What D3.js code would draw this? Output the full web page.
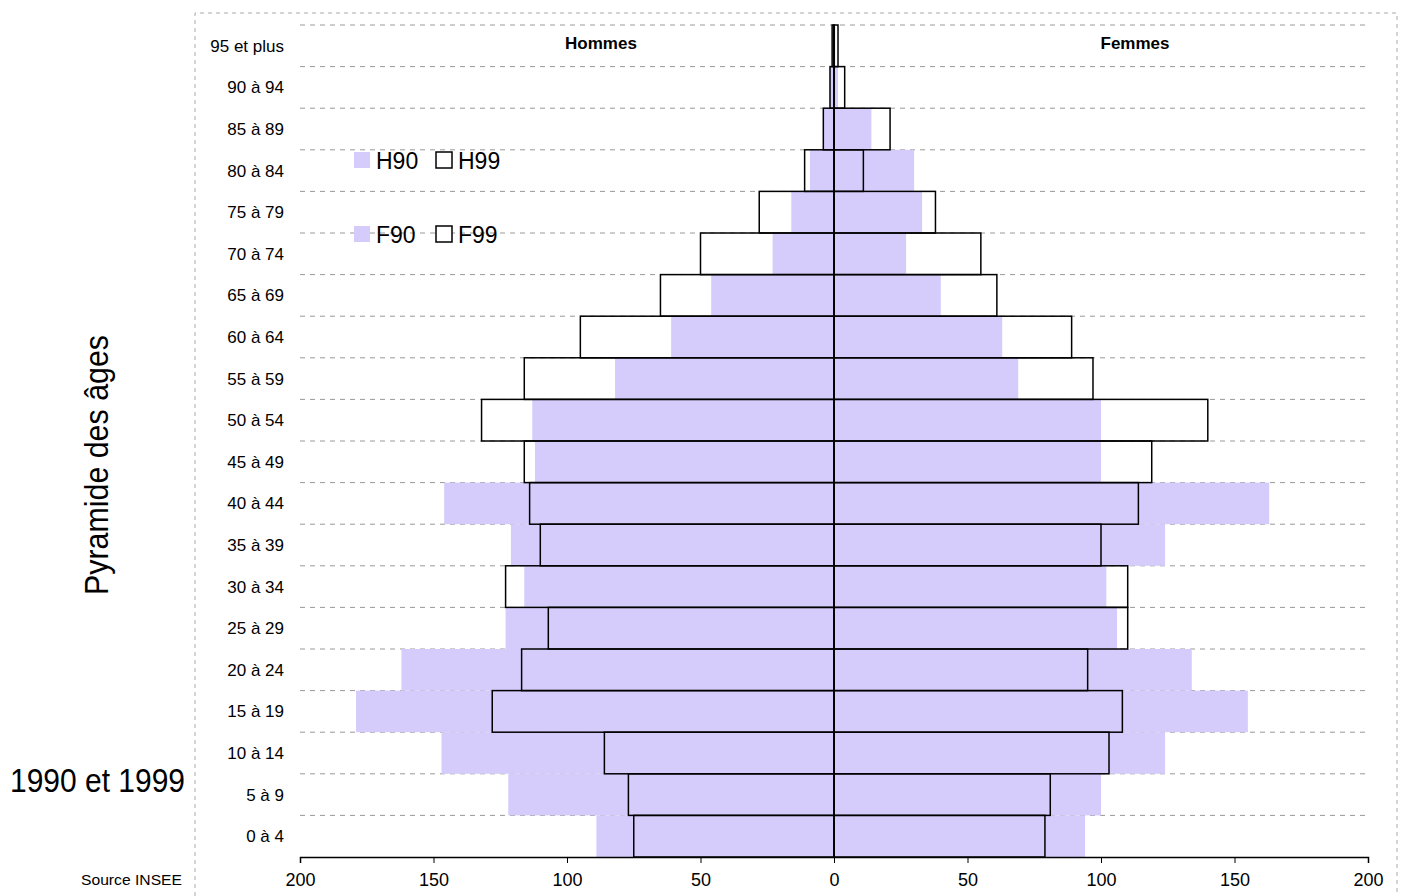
<!DOCTYPE html>
<html><head><meta charset="utf-8">
<script src="https://cdn.jsdelivr.net/npm/d3@7"></script>
<style>body{margin:0;background:#fff}text{font-family:"Liberation Sans Narrow","Arial Narrow","Liberation Sans",sans-serif}</style>
</head><body><svg id="c" width="1402" height="896"></svg>
<script>
var ages = ["0 à 4","5 à 9","10 à 14","15 à 19","20 à 24","25 à 29","30 à 34","35 à 39","40 à 44","45 à 49","50 à 54","55 à 59","60 à 64","65 à 69","70 à 74","75 à 79","80 à 84","85 à 89","90 à 94","95 et plus"];
var h90 = [89,122,147,179,162,123,116,121,146,112,113,82,61,46,23,16,9,4,1.5,0.5];
var h99 = [75,77,86,128,117,107,123,110,114,116,132,116,95,65,50,28,11,4,1.5,0.7];
var f90 = [94,100,124,155,134,106,102,124,163,100,100,69,63,40,27,33,30,14,1.5,0.5];
var f99 = [79,81,103,108,95,110,110,100,114,119,140,97,89,61,55,38,11,21,4,1.5];

var svg = d3.select("#c");
var purple = "#d5ccfb";
var x = d3.scaleLinear().domain([-200,200]).range([300,1368]);
var y = d3.scaleBand().domain(ages.slice().reverse()).range([25,857]).padding(0);

svg.append("path").attr("d","M195,896 V13 H1397 V896").attr("fill","none")
  .attr("stroke","#aaa").attr("stroke-dasharray","4,4");

svg.selectAll(".grid").data(ages).enter().append("line")
  .attr("x1",300).attr("x2",1368).attr("y1",function(d){return y(d);}).attr("y2",function(d){return y(d);})
  .attr("stroke","#999").attr("stroke-dasharray","5,5");

function bars(data, left, filled) {
  svg.append("g").selectAll("rect").data(data).enter().append("rect")
    .attr("x",function(d){ return left ? x(-d) : x(0); })
    .attr("width",function(d){ return x(d)-x(0); })
    .attr("y",function(d,i){ return y(ages[i]); })
    .attr("height",y.bandwidth())
    .attr("fill",filled ? purple : "none")
    .attr("stroke",filled ? "none" : "#000").attr("stroke-width",1.5);
}
bars(h90,true,true); bars(f90,false,true);
bars(h99,true,false); bars(f99,false,false);

svg.append("line").attr("x1",x(0)).attr("x2",x(0)).attr("y1",25).attr("y2",857).attr("stroke","#000").attr("stroke-width",1.5);

var ax = d3.axisBottom(x).tickValues([-200,-150,-100,-50,0,50,100,150,200])
  .tickFormat(function(d){ return Math.abs(d); }).tickSizeOuter(0).tickSize(6);
var g = svg.append("g").attr("transform","translate(0,857)").call(ax);
g.selectAll("text").attr("font-size",18).attr("fill","#000").attr("dy","1.1em");
g.selectAll("line,path").attr("stroke","#000");
g.select(".domain").attr("stroke-width",1.5);

svg.selectAll(".age").data(ages).enter().append("text")
  .attr("x",284).attr("y",function(d){ return y(d)+y.bandwidth()/2+6; })
  .attr("text-anchor","end").attr("font-size",17).text(function(d){return d;});

svg.append("text").attr("x",601).attr("y",49).attr("text-anchor","middle").attr("font-size",17).attr("font-weight","bold").text("Hommes");
svg.append("text").attr("x",1135).attr("y",49).attr("text-anchor","middle").attr("font-size",17).attr("font-weight","bold").text("Femmes");

var leg = [["H90",354,160,true],["H99",436,160,false],["F90",354,234,true],["F99",436,234,false]];
leg.forEach(function(l){
  svg.append("rect").attr("x",l[1]).attr("y",l[2]-8).attr("width",16).attr("height",16)
    .attr("fill",l[3]?purple:"#fff").attr("stroke",l[3]?"none":"#000").attr("stroke-width",1.5);
  svg.append("text").attr("x",l[1]+22).attr("y",l[2]+9).attr("font-size",23).text(l[0]);
});

svg.append("text").attr("transform","translate(108,595) rotate(-90)").attr("font-size",34)
  .attr("textLength",260).attr("lengthAdjust","spacingAndGlyphs").text("Pyramide des âges");
svg.append("text").attr("x",10).attr("y",792).attr("font-size",34)
  .attr("textLength",175).attr("lengthAdjust","spacingAndGlyphs").text("1990 et 1999");
svg.append("text").attr("x",81).attr("y",885).attr("font-size",15)
  .attr("textLength",101).attr("lengthAdjust","spacingAndGlyphs").text("Source INSEE");
</script></body></html>
